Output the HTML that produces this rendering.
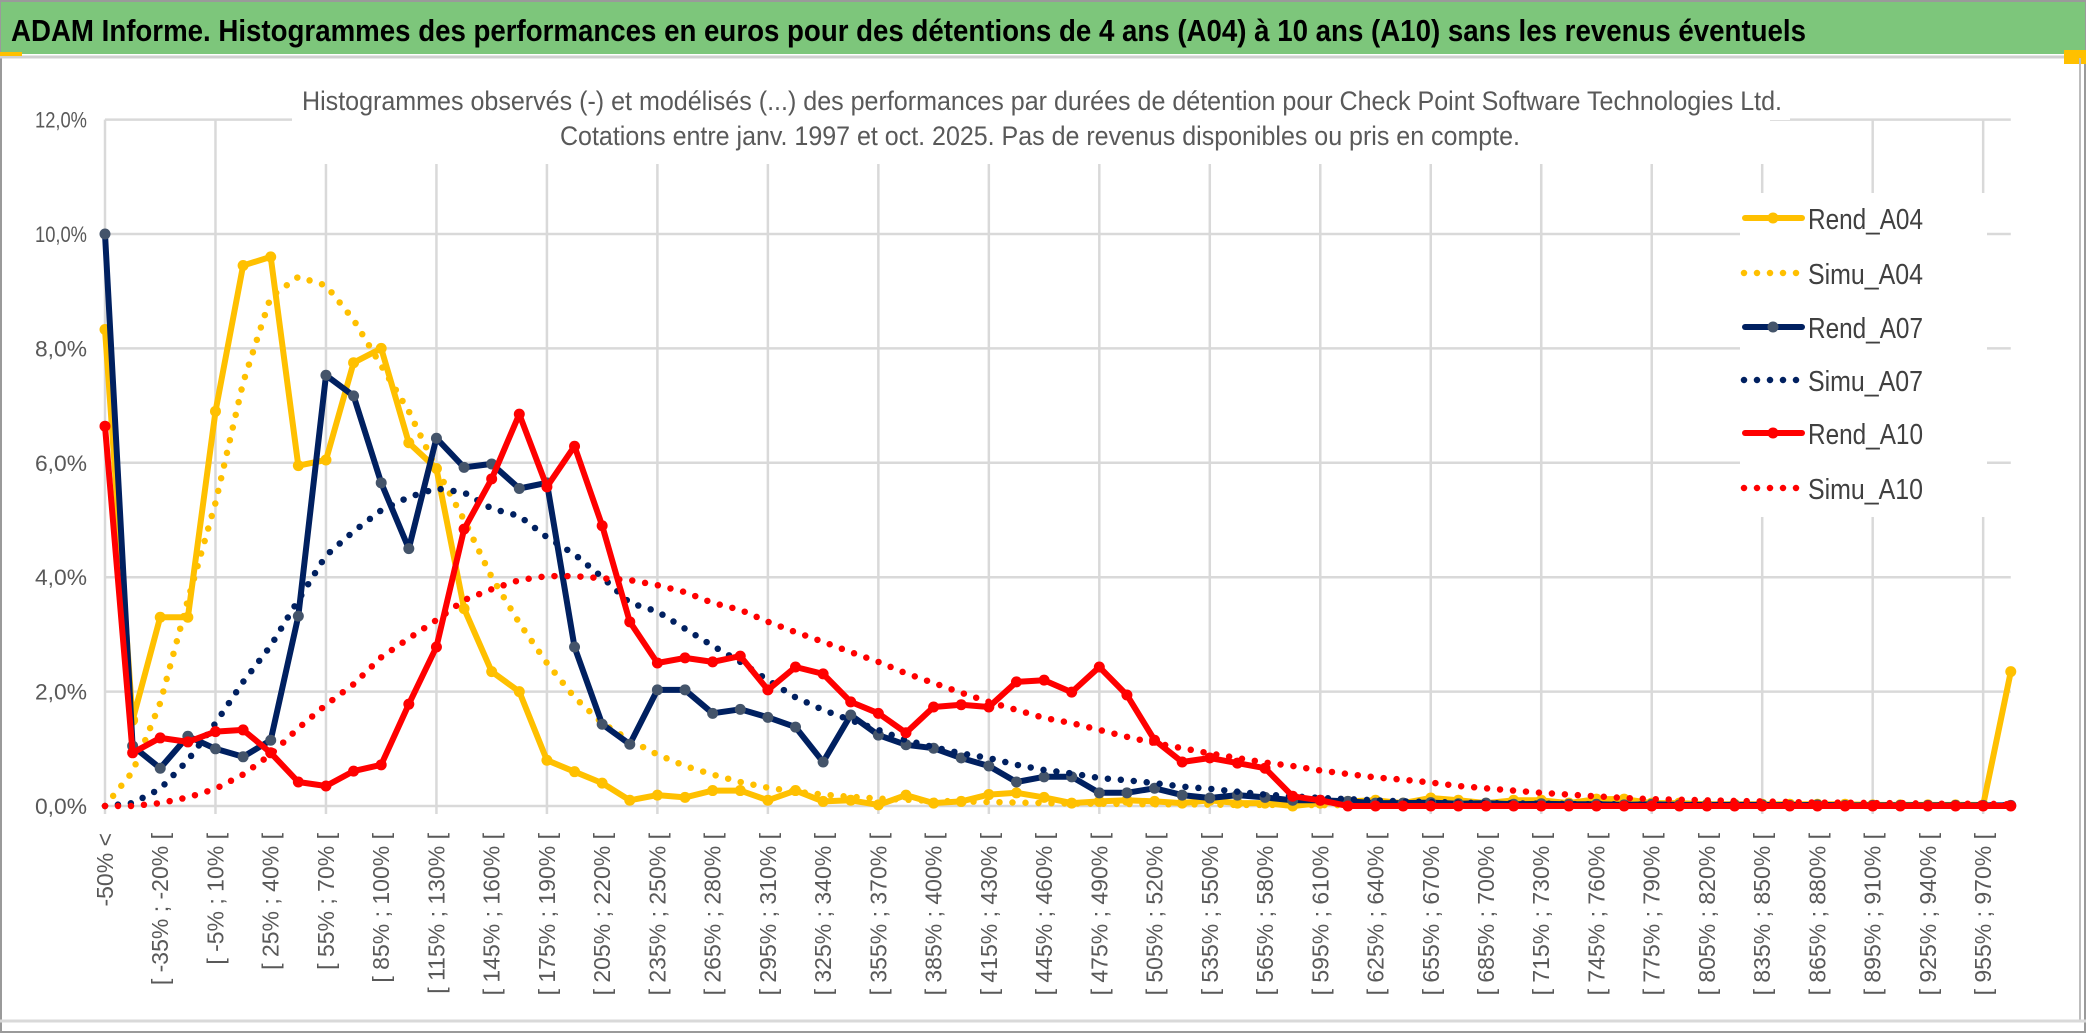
<!DOCTYPE html>
<html><head><meta charset="utf-8"><style>
html,body{margin:0;padding:0;background:#fff;}
svg{display:block;}
</style></head><body>
<svg id="chart" width="2086" height="1033" viewBox="0 0 2086 1033" xmlns="http://www.w3.org/2000/svg">
  <rect x="0" y="0" width="2086" height="1033" fill="#fff"/>
  <rect x="1" y="1" width="2084" height="1031" fill="none" stroke="#9a9a9a" stroke-width="2"/>
  <rect x="1" y="2" width="2084" height="52" fill="#7DC67B"/>
  <line x1="0" y1="57" x2="2086" y2="57" stroke="#d0d0d0" stroke-width="3"/>
  <rect x="0" y="52" width="22" height="4" fill="#FFC000"/>
  <rect x="2064" y="50" width="22" height="14" fill="#FFC000"/>
  <line x1="2080" y1="58" x2="2080" y2="1020" stroke="#bdbdbd" stroke-width="2"/>
  <line x1="0" y1="1021" x2="2086" y2="1021" stroke="#d9d9d9" stroke-width="3"/>
  <text x="11" y="41" font-family="'Liberation Sans Narrow','Liberation Sans',sans-serif" font-weight="bold" font-size="31" fill="#000" textLength="1795" lengthAdjust="spacingAndGlyphs">ADAM Informe. Histogrammes des performances en euros pour des détentions de 4 ans (A04) à 10 ans (A10) sans les revenus éventuels</text>
  <g id="grid"></g>
  <rect x="292" y="80" width="1478" height="84" fill="#fff"/>
  <rect x="1770" y="80" width="20" height="40" fill="#fff"/>
  <rect x="1740" y="193" width="247" height="324" fill="#fff"/>
  <text x="1042" y="110" text-anchor="middle" font-family="'Liberation Sans Narrow','Liberation Sans',sans-serif" font-size="27" fill="#595959" textLength="1480" lengthAdjust="spacingAndGlyphs">Histogrammes observés (-) et modélisés (...) des performances par durées de détention pour Check Point Software Technologies Ltd.</text>
  <text x="1040" y="145" text-anchor="middle" font-family="'Liberation Sans Narrow','Liberation Sans',sans-serif" font-size="27" fill="#595959" textLength="960" lengthAdjust="spacingAndGlyphs">Cotations entre janv. 1997 et oct. 2025. Pas de revenus disponibles ou pris en compte.</text>
  <g id="yaxis"></g>
  <g id="xaxis"></g>
  <g id="series"></g>
  <g id="legend"></g>
</svg>
<script>
const rendA04 = [8.33,1.5,3.3,3.3,6.9,9.45,9.6,5.95,6.05,7.75,
8.0,6.35,5.9,3.45,2.35,2.0,0.8,0.6,0.4,0.1,
0.19,0.15,0.27,0.27,0.1,0.27,0.08,0.1,0.02,0.19,
0.05,0.08,0.2,0.23,0.15,0.05,0.08,0.1,0.08,0.05,
0.1,0.05,0.05,0.0,0.05,0.08,0.1,0.05,0.14,0.1,
0.05,0.1,0.1,0.05,0.12,0.12,0.05,0.05,0.03,0.03,
0.03,0.03,0.03,0.03,0.02,0.02,0.02,0.02,0.02,2.35];
const simuA04 = [0.0,0.6,1.8,3.6,5.3,7.4,8.9,9.25,9.1,8.5,
7.7,6.9,5.9,5.0,4.0,3.2,2.5,1.9,1.45,1.15,
0.9,0.7,0.55,0.42,0.32,0.25,0.2,0.16,0.13,0.11,
0.09,0.08,0.07,0.06,0.05,0.045,0.04,0.035,0.03,0.03,
0.025,0.02,0.02,0.02,0.015,0.015,0.01,0.01,0.01,0.01,
0.01,0.01,0.01,0.01,0.01,0.01,0.01,0.01,0.01,0.01,
0.005,0.005,0.005,0.005,0.005,0.005,0.005,0.005,0.005,0.005];
const rendA07 = [10.0,1.05,0.66,1.22,1.0,0.86,1.15,3.32,7.53,7.17,
5.65,4.5,6.43,5.92,5.98,5.55,5.65,2.78,1.43,1.08,
2.03,2.03,1.62,1.69,1.55,1.38,0.77,1.59,1.24,1.07,
1.01,0.84,0.7,0.42,0.51,0.51,0.23,0.23,0.31,0.19,
0.14,0.19,0.15,0.1,0.1,0.08,0.05,0.05,0.06,0.04,
0.05,0.03,0.04,0.03,0.03,0.02,0.03,0.02,0.02,0.02,
0.02,0.01,0.02,0.01,0.01,0.01,0.01,0.01,0.01,0.01];
const simuA07 = [0.0,0.05,0.3,0.8,1.45,2.17,2.8,3.6,4.38,4.8,
5.17,5.4,5.55,5.48,5.2,5.07,4.7,4.4,4.0,3.55,
3.4,3.1,2.8,2.52,2.2,1.9,1.68,1.5,1.33,1.15,
1.03,0.92,0.84,0.72,0.63,0.57,0.49,0.45,0.4,0.34,
0.3,0.25,0.2,0.17,0.14,0.12,0.1,0.08,0.07,0.06,
0.05,0.045,0.04,0.035,0.03,0.03,0.025,0.02,0.02,0.02,
0.015,0.015,0.01,0.01,0.01,0.01,0.01,0.01,0.01,0.01];
const rendA10 = [6.64,0.93,1.19,1.12,1.3,1.33,0.93,0.42,0.35,0.61,
0.72,1.78,2.78,4.84,5.72,6.85,5.58,6.29,4.9,3.22,
2.5,2.59,2.52,2.62,2.03,2.43,2.31,1.82,1.62,1.28,
1.73,1.77,1.73,2.17,2.2,1.99,2.43,1.94,1.15,0.77,
0.84,0.75,0.66,0.17,0.1,0.0,0.0,0.0,0.0,0.0,
0.0,0.0,0.0,0.0,0.0,0.0,0.0,0.0,0.0,0.0,
0.0,0.0,0.0,0.0,0.0,0.0,0.0,0.0,0.0,0.0];
const simuA10 = [0.0,0.0,0.05,0.15,0.3,0.55,0.9,1.36,1.77,2.13,
2.6,2.93,3.25,3.6,3.79,3.95,4.02,4.02,3.98,3.95,
3.86,3.74,3.55,3.43,3.22,3.04,2.87,2.69,2.52,2.32,
2.15,1.98,1.82,1.68,1.54,1.45,1.33,1.21,1.1,1.01,
0.92,0.84,0.76,0.7,0.62,0.56,0.5,0.46,0.41,0.35,
0.31,0.27,0.23,0.2,0.17,0.14,0.12,0.11,0.1,0.09,
0.08,0.07,0.06,0.06,0.05,0.05,0.04,0.04,0.04,0.03];
const yTicks = [0,2,4,6,8,10,12];
const yTickLabels = ["0,0%","2,0%","4,0%","6,0%","8,0%","10,0%","12,0%"];
const categories = ["-50% <"];
for (let i = 1; i < 70; i++) { const lo = -50 + 15 * (i - 1); categories.push("[ " + lo + "% ; " + (lo + 15) + "% ["); }
const legendNames = ["Rend_A04","Simu_A04","Rend_A07","Simu_A07","Rend_A10","Simu_A10"];

const NS = "http://www.w3.org/2000/svg";
const X0 = 105, XSTEP = 27.62, Y0 = 806, YPER = 57.2;
const xs = i => X0 + i * XSTEP;
const ys = v => Y0 - v * YPER;
function mk(tag, attrs, parent) { const e = document.createElementNS(NS, tag); for (const k in attrs) e.setAttribute(k, attrs[k]); parent.appendChild(e); return e; }

const grid = document.getElementById('grid');
const xEnd = xs(categories.length - 1);
yTicks.forEach((t, k) => {
  const l = mk('line', {x1: X0, x2: xEnd, y1: ys(t), y2: ys(t), stroke: '#d9d9d9', 'stroke-width': 2.5}, grid);
  
  
});
for (let i = 0; i < categories.length; i += 4) {
  const l = mk('line', {x1: xs(i), x2: xs(i), y1: ys(12), y2: Y0 + 8, stroke: '#d9d9d9', 'stroke-width': 2.5}, grid);
  
  
}
const yaxis = document.getElementById('yaxis');
yTicks.forEach((t, k) => {
  const tx = mk('text', {x: 87, y: ys(t) + 8, 'text-anchor': 'end', 'font-family': "'Liberation Sans Narrow','Liberation Sans',sans-serif", 'font-size': 22, fill: '#595959', textLength: 52, lengthAdjust: 'spacingAndGlyphs'}, yaxis);
  tx.textContent = yTickLabels[k];
  
  
});
const xaxis = document.getElementById('xaxis');
categories.forEach((c, i) => {
  if (i % 2) return;
  const x = xs(i) + 8, y = 833;
  const tx = mk('text', {x: x, y: y, 'text-anchor': 'end', transform: 'rotate(-90 ' + x + ' ' + y + ')', 'font-family': "'Liberation Sans','DejaVu Sans',sans-serif", 'font-size': 23, fill: '#595959'}, xaxis);
  tx.textContent = c;
  
  
});

const series = document.getElementById('series');
function pts(arr) { return arr.map((v, i) => xs(i).toFixed(1) + ',' + ys(v).toFixed(1)).join(' '); }
function solid(arr, color, marker, name) {
  const g = mk('g', {}, series);
  
  
  const p = mk('polyline', {points: pts(arr), fill: 'none', stroke: color, 'stroke-width': 6, 'stroke-linejoin': 'round', 'stroke-linecap': 'round'}, g);
  
  
  arr.forEach((v, i) => {
    const c = mk('circle', {cx: xs(i), cy: ys(v), r: 5.5, fill: marker}, g);
    
    
  });
}
function dotted(arr, color, name) {
  const p = mk('polyline', {points: pts(arr), fill: 'none', stroke: color, 'stroke-width': 6.5, 'stroke-linecap': 'round', 'stroke-dasharray': '0 13'}, series);
  
  
}
solid(rendA04, '#FFC000', '#FFC000', 'rend-a04');
dotted(simuA04, '#FFC000', 'simu-a04');
solid(rendA07, '#002060', '#44546A', 'rend-a07');
dotted(simuA07, '#002060', 'simu-a07');
solid(rendA10, '#FF0000', '#FF0000', 'rend-a10');
dotted(simuA10, '#FF0000', 'simu-a10');

const legend = document.getElementById('legend');
const legColors = ['#FFC000','#FFC000','#002060','#002060','#FF0000','#FF0000'];
const legMarkers = ['#FFC000',null,'#44546A',null,'#FF0000',null];
const legY = [218,273,327,380,433,488];
legendNames.forEach((n, k) => {
  const g = mk('g', {}, legend);
  
  
  const y = legY[k];
  if (k % 2 === 0) {
    mk('line', {x1: 1745, x2: 1802, y1: y, y2: y, stroke: legColors[k], 'stroke-width': 6, 'stroke-linecap': 'round'}, g);
    mk('circle', {cx: 1773, cy: y, r: 5.5, fill: legMarkers[k]}, g);
  } else {
    mk('line', {x1: 1744, x2: 1800, y1: y, y2: y, stroke: legColors[k], 'stroke-width': 6.5, 'stroke-linecap': 'round', 'stroke-dasharray': '0 13'}, g);
  }
  const tx = mk('text', {x: 1808, y: y + 11, 'font-family': "'Liberation Sans Narrow','Liberation Sans',sans-serif", 'font-size': 29, fill: '#404040', textLength: 115, lengthAdjust: 'spacingAndGlyphs'}, g);
  tx.textContent = n;
});
</script>
</body></html>
